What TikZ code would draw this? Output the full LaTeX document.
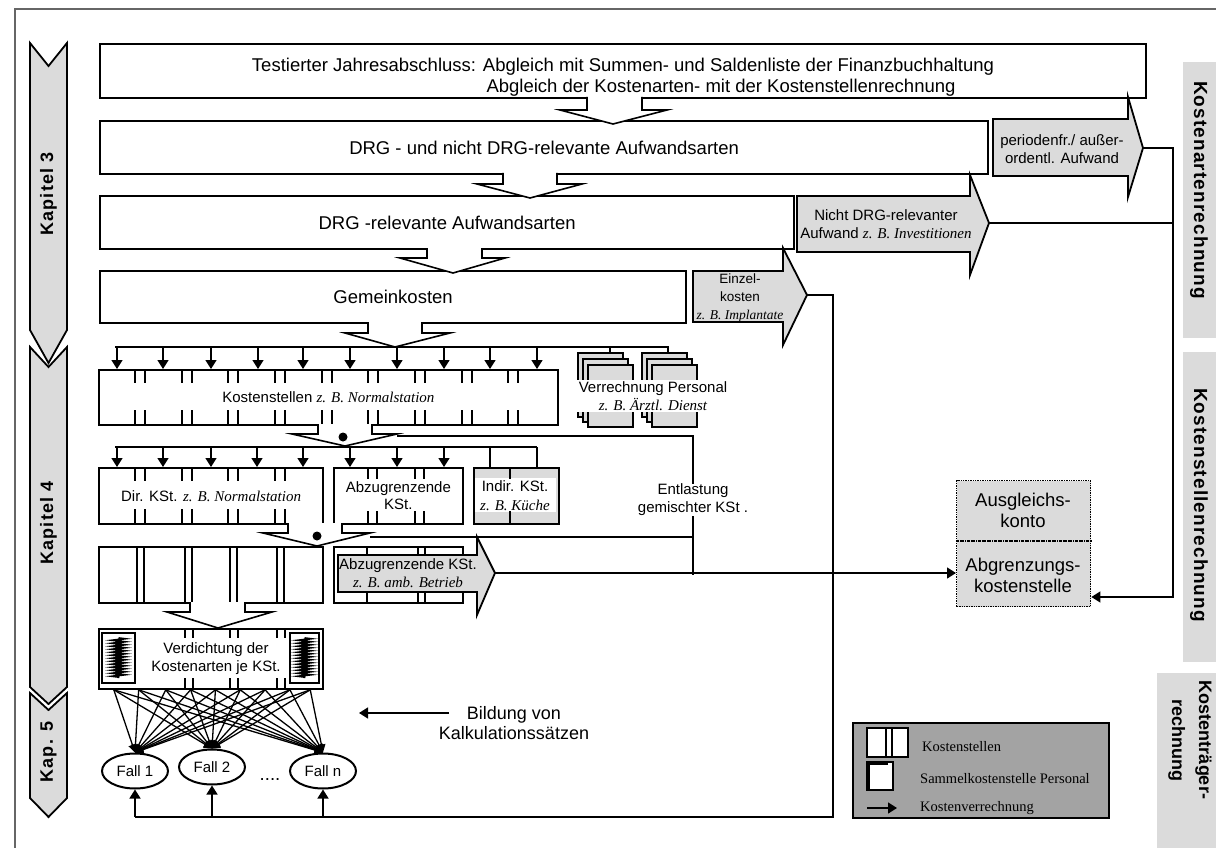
\documentclass[tikz,border=0pt]{standalone}
\usepackage{fontspec}
\setmainfont{Liberation Sans}
\newfontfamily\exfont{Liberation Serif}
\newfontfamily\lsfont[LetterSpace=6]{Liberation Sans}
\usetikzlibrary{positioning,arrows.meta,calc,shapes.geometric,decorations.pathmorphing}

\definecolor{lgray}{gray}{0.86}
\definecolor{leggray}{gray}{0.64}
\newcommand{\zb}[1]{{\exfont\itshape #1}}

\begin{document}
\begin{tikzpicture}[x=1pt, y=-1pt,
  every node/.style={inner sep=0pt, font=\fontsize{18.5}{21}\selectfont},
  mainbox/.style={rectangle, draw, line width=2.2pt, fill=white, anchor=north west},
  ksbox/.style={rectangle, draw, line width=1.8pt, fill=white, anchor=north west},
  smalltxt/.style={align=center, font=\fontsize{15}{18}\selectfont},
  fallnode/.style={ellipse, draw, line width=2pt, fill=white, minimum width=66pt,
                   minimum height=35pt, font=\fontsize{15}{17}\selectfont},
  blockarr/.style={draw, line width=1.6pt, fill=white},
  grayarr/.style={draw, line width=1.8pt, fill=lgray},
  kapbar/.style={draw, line width=1.8pt, fill=lgray},
  kaplab/.style={rotate=90, font=\lsfont\fontsize{18}{20}\selectfont\bfseries},
  sidelab/.style={rotate=-90, align=center, font=\lsfont\fontsize{19}{22}\selectfont\bfseries},
  flow/.style={-{Triangle[length=9pt,width=11pt]}, line width=1.5pt},
  netflow/.style={-{Triangle[length=8pt,width=8pt]}, line width=1.3pt},
  conn/.style={line width=1.5pt},
  tick/.style={line width=1.4pt},
  tickb/.style={line width=2.6pt},
  legtxt/.style={anchor=west, font=\exfont\fontsize{14.5}{16}\selectfont}
]
\useasboundingbox (0,0) rectangle (1216,848);
\draw[line width=2pt, black!60] (15,848) -- (15,9) -- (1216,9);

% chapter bars
\draw[kapbar] (30,347) -- (48.5,367) -- (67,347) -- (67,687) -- (48.5,704) -- (30,687) -- cycle;
\draw[kapbar] (30,43) -- (48.5,66) -- (67,43) -- (67,330) -- (48.5,363) -- (30,330) -- cycle;
\draw[kapbar] (30,693) -- (48.5,710) -- (67,693) -- (67,798) -- (48.5,817) -- (30,798) -- cycle;
\node[kaplab] (kap3) at (48.5,194) {Kapitel 3};
\node[kaplab] (kap4) at (48.5,523) {Kapitel 4};
\node[kaplab] (kap5) at (48.5,752) {Kap. 5};

% side labels
\fill[lgray] (1183,62) rectangle (1216,338);
\fill[lgray] (1183,352) rectangle (1216,662);
\fill[lgray] (1157,673) rectangle (1216,848);
\node[sidelab] (kar) at (1199,190) {Kostenartenrechnung};
\node[sidelab] (ksr) at (1199,505) {Kostenstellenrechnung};
\node[sidelab, font=\fontsize{18}{27}\selectfont\bfseries] (ktr) at (1190,740) {Kostenträger-\\rechnung};

% Kostenartenrechnung
\node[mainbox, minimum width=1046pt, minimum height=54pt] (jab) at (99,43) {};
\node (jabt) at (623,67) {Testierter Jahresabschluss: Abgleich mit Summen- und Saldenliste der Finanzbuchhaltung};
\node (jabu) at (721,89) {\underline{Abgleich der Kostenarten- mit der Kostenstellenrechnung}};
\node[mainbox, minimum width=888pt, minimum height=53pt] (drg) at (99,120) {DRG - und nicht DRG-relevante Aufwandsarten};
\node[mainbox, minimum width=694pt, minimum height=53pt] (drgr) at (99,195) {DRG -relevante Aufwandsarten};
\node[mainbox, minimum width=586pt, minimum height=52pt] (gk) at (99,270) {Gemeinkosten};

\draw[blockarr] (587,97) -- (587,110) -- (560,110) -- (613,124) -- (667,110) -- (642,110) -- (642,97);
\draw[blockarr] (503,173) -- (503,184) -- (477,184) -- (530,198) -- (582,184) -- (557,184) -- (557,173);
\draw[blockarr] (427,248) -- (427,258) -- (400,258) -- (453,273) -- (505,258) -- (482,258) -- (482,248);
\draw[blockarr] (368,322) -- (368,333) -- (345,333) -- (395,347) -- (450,333) -- (422,333) -- (422,322);

% grey outflows
\draw[grayarr] (993,119) -- (1128,119) -- (1128,97) -- (1143,148) -- (1128,197) -- (1128,176) -- (993,176) -- cycle;
\coordinate (pa-tip) at (1143,148);
\node[smalltxt] (pat) at (1062,149) {periodenfr./ außer-\\ordentl. Aufwand};
\draw[grayarr] (797,196) -- (970,196) -- (970,175) -- (989,223) -- (970,275) -- (970,252) -- (797,252) -- cycle;
\coordinate (nd-tip) at (989,223);
\node[smalltxt] (ndt) at (886,224) {Nicht DRG-relevanter\\Aufwand \zb{z. B. Investitionen}};
\draw[grayarr] (693,271) -- (783,271) -- (783,248) -- (807,295) -- (783,345) -- (783,322) -- (693,322) -- cycle;
\coordinate (ez-tip) at (807,295);
\node[smalltxt, font=\fontsize{13.5}{18}\selectfont] (ezt) at (740,298) {Einzel-\\kosten\\\zb{z. B. Implantate}};

% Kostenstellen
\draw[conn, line width=2pt] (115,347) -- (668,347) -- (668,353);
\draw[conn] (610,347) -- (610,353);
\node[ksbox, minimum width=459pt, minimum height=55pt, smalltxt] (kst) at (98,369) {Kostenstellen \zb{z. B. Normalstation}};
\foreach \x in {135,182,228,275,322,368,415,462,508} {
  \draw[tickb] (\x,369) -- ++(0,14) (\x,424) -- ++(0,-14);
  \draw[tick] (\x+10,369) -- ++(0,14) (\x+10,424) -- ++(0,-14);
}
\foreach \x in {117,163,211,258,303,350,397,444,490,537}
  \draw[flow] (\x,347) -- (\x,0 |- kst.north);

\foreach \sx in {578,642}
  \foreach \o in {0,5,10}
    \draw[line width=1.6pt, fill=lgray] (\sx+\o,353+1.2*\o) rectangle (\sx+\o+45,417+\o);
\node[smalltxt, fill=white, inner sep=1.5pt] (vp) at (653,396) {Verrechnung Personal\\\zb{z. B. Ärztl. Dienst}};

\draw[blockarr] (318,424) -- (318,434) -- (292,434) -- (345,446) -- (397,434) -- (372,434) -- (372,424);
\fill (343,437) circle (4.5pt);
\node[smalltxt] (ent) at (693,500) {Entlastung\\gemischter KSt .};
\draw[conn] (397,436) -- (693,436) -- (693,0 |- ent.north);
\draw[conn] (693,0 |- ent.south) -- (693,575);

\draw[conn, line width=2pt] (115,447) -- (537,447);
\node[ksbox, minimum width=224pt, minimum height=56pt, smalltxt, line width=2.2pt] (dks) at (98,467) {Dir. KSt. \zb{z. B. Normalstation}};
\node[ksbox, minimum width=129pt, minimum height=56pt, smalltxt, font=\fontsize{15}{17}\selectfont] (abk) at (333,467) {Abzugrenzende\\KSt.};
\node[ksbox, fill=lgray, minimum width=85pt, minimum height=56pt, line width=2.2pt] (ind) at (473,467) {};
\fill[white] (475,478) rectangle (556,512);
\node[smalltxt, font=\fontsize{15}{19}\selectfont] (indt) at (515,496) {Indir. KSt.\\\zb{z. B. Küche}};
\foreach \x in {135,182,228,275} {
  \draw[tickb] (\x,467) -- ++(0,14) (\x,523) -- ++(0,-14);
  \draw[tick] (\x+10,467) -- ++(0,14) (\x+10,523) -- ++(0,-14);
}
\foreach \x in {368,415} {
  \draw[tick] (\x,467) -- ++(0,12) (\x,523) -- ++(0,-12);
  \draw[tickb] (\x+9,467) -- ++(0,12) (\x+9,523) -- ++(0,-12);
}
\draw[tickb] (510,467) -- ++(0,12) (510,523) -- ++(0,-12);
\foreach \x in {117,163,211,257,303,350,397,444}
  \draw[flow] (\x,447) -- (\x,0 |- dks.north);
\foreach \x in {490,537}
  \draw[conn] (\x,447) -- (\x,0 |- ind.north);

\draw[blockarr] (288,523) -- (288,533) -- (263,533) -- (317,546) -- (370,533) -- (342,533) -- (342,523);
\fill (317,536) circle (4.5pt);
\draw[conn] (370,537) -- (693,537);

% cost centres after allocation
\node[ksbox, minimum width=224pt, minimum height=56pt] (kr3) at (98,546) {};
\foreach \x in {137,185,230,277} {
  \draw[tick] (\x,0 |- kr3.north) -- (\x,0 |- kr3.south);
  \draw[tickb] (\x+7,0 |- kr3.north) -- (\x+7,0 |- kr3.south);
}
\node[ksbox, minimum width=129pt, minimum height=56pt] (kr3b) at (333,546) {};
\foreach \x in {367,418} \draw[tick] (\x,546) -- (\x,602);
\draw[tickb] (425,546) -- (425,602);
\draw[grayarr] (338,555) -- (477,555) -- (477,537) -- (495,573) -- (477,615) -- (477,592) -- (338,592) -- cycle;
\coordinate (az-tip) at (495,573);
\node[smalltxt] (azt) at (408,573) {Abzugrenzende KSt.\\\zb{z. B. amb. Betrieb}};

\draw[blockarr] (190,602) -- (190,612) -- (167,612) -- (218,628) -- (272,612) -- (245,612) -- (245,602);

% Verdichtung
\node[ksbox, minimum width=224pt, minimum height=60pt] (verd) at (98,628) {};
\draw[line width=1.4pt] (102,633) rectangle (135,683) (290,633) rectangle (319,683);
\draw[line width=1.8pt, decorate, decoration={zigzag, segment length=3pt, amplitude=6pt}] (118.5,638) -- (118.5,678);
\draw[line width=1.8pt, decorate, decoration={zigzag, segment length=3pt, amplitude=6pt}] (304.5,638) -- (304.5,678);
\foreach \x in {185,230,277} {
  \draw[tick] (\x,628) -- ++(0,10) (\x,688) -- ++(0,-10);
  \draw[tickb] (\x+8,628) -- ++(0,10) (\x+8,688) -- ++(0,-10);
}
\node[smalltxt] (verdt) at (216,659) {Verdichtung der\\Kostenarten je KSt.};

% cases
\node[fallnode] (f1) at (135,771) {Fall 1};
\node[fallnode] (f2) at (212,767) {Fall 2};
\node[fallnode] (fn) at (323,771) {Fall n};
\node (dots) at (270,780) {....};
\foreach \t in {0.07,0.18,0.3,0.41,0.52,0.63,0.74,0.85,0.94}
  \foreach \f in {f1,f2,fn}
    \draw[netflow] ($(verd.south west)!\t!(verd.south east)$) -- (\f.north);

\coordinate (bild-s) at (449,713);
\coordinate (bild-e) at (359,713);
\draw[flow] (bild-s) -- (bild-e);
\node[align=center, font=\fontsize{18}{20}\selectfont] (bild) at (514,723) {Bildung von\\Kalkulationssätzen};

% Einzelkosten back to the cases
\draw[conn] (ez-tip) -- (833,295) |- (f1.south |- 0,817);
\foreach \f in {f1,f2,fn}
  \draw[flow] (\f.south |- 0,817) -- (\f.south);

% Ausgleichskonto
\node[draw, densely dotted, line width=1.4pt, fill=lgray, anchor=north west,
      minimum width=134pt, minimum height=126pt] (agk) at (956,480) {};
\draw[densely dash dot, line width=1.6pt] (agk.west |- 0,541) -- (agk.east |- 0,541);
\node[align=center] (agk1) at (1023,510) {Ausgleichs-\\konto};
\node[align=center] (agk2) at (1023,575) {Abgrenzungs-\\kostenstelle};
\draw[flow] (az-tip) -- (az-tip -| agk.west);
\draw[conn] (nd-tip) -- (1173,223);
\draw[flow] (pa-tip) -- (1173,148) |- (agk.east |- 0,597);

% legend
\node[draw, line width=1.6pt, fill=leggray, anchor=north west,
      minimum width=256pt, minimum height=95pt] (leg) at (852,722) {};
\draw[line width=1.8pt, fill=white] (867,728) rectangle (908,757);
\draw[tick] (886,728) -- (886,757);
\draw[tickb] (892,728) -- (892,757);
\node[legtxt] (leg1) at (922,747) {Kostenstellen};
\draw[line width=1.5pt, fill=white] (867,762) rectangle (893,790);
\draw[line width=3.5pt] (868,790) -- (868,763) -- (888,763);
\node[legtxt] (leg2) at (920,779) {Sammelkostenstelle Personal};
\coordinate (leg-s) at (867,808);
\coordinate (leg-e) at (897,808);
\draw[flow] (leg-s) -- (leg-e);
\node[legtxt] (leg3) at (920,808) {Kostenverrechnung};
\end{tikzpicture}
\end{document}
